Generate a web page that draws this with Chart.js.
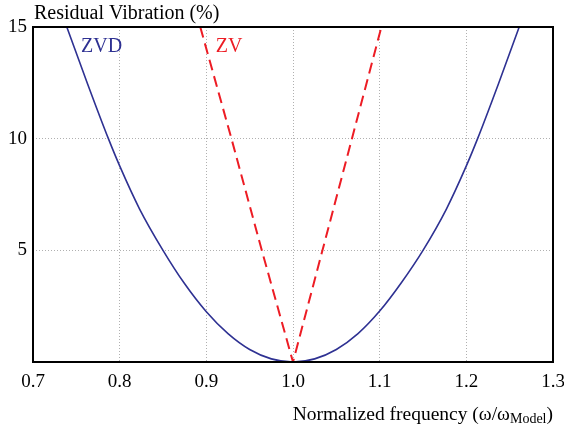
<!DOCTYPE html>
<html>
<head>
<meta charset="utf-8">
<script src="https://cdn.jsdelivr.net/npm/chart.js@4"></script>
<style>
  html, body { margin: 0; padding: 0; background: #fff; }
  #wrap { width: 564px; height: 430px; position: relative; }
</style>
</head>
<body>
<div id="wrap"><canvas id="vib"></canvas></div>
<script>
/* ── data ────────────────────────────────────────────────── */
const zvdX = [0.739, 0.763, 0.787, 0.800, 0.823, 0.850, 0.875, 0.900, 0.925, 0.950, 0.975, 1.000,
              1.025, 1.050, 1.075, 1.100, 1.125, 1.150, 1.177, 1.200, 1.213, 1.237, 1.261];
const zvdY = [15.0, 12.45, 10.0, 8.78, 6.85, 5.0, 3.5, 2.25, 1.27, 0.56, 0.14, 0.0,
              0.14, 0.56, 1.27, 2.28, 3.55, 5.0, 6.85, 8.78, 10.0, 12.45, 15.0];

const zvX = [0.893, 0.929, 0.964, 1.000, 1.034, 1.068, 1.102];
const zvY = [15.0, 10.0, 5.0, 0.0, 5.0, 10.0, 15.0];

const xMin = 0.7, xMax = 1.3, xStep = 0.1;
const yMin = 0, yMax = 15, yStep = 5;

const BLUE = "#2e3192";
const RED = "#ed1c24";
const SERIF = "'Liberation Serif', 'Times New Roman', serif";

const pts = (xs, ys) => xs.map((x, i) => ({ x, y: ys[i] }));

/* ── titles, series labels and frame ─────────────────────── */
const decor = {
  id: "decor",
  afterDraw(chart) {
    const { ctx, chartArea: a, scales } = chart;
    ctx.save();
    // frame
    ctx.strokeStyle = "#000";
    ctx.lineWidth = 2;
    ctx.strokeRect(a.left, a.top, a.right - a.left, a.bottom - a.top);

    ctx.textBaseline = "alphabetic";
    ctx.textAlign = "left";
    ctx.fillStyle = "#000";

    // y title
    ctx.font = "20px " + SERIF;
    ctx.fillText("Residual Vibration (%)", a.left + 1, 18.5);

    // x title with subscript
    const main = "Normalized frequency (ω/ω";
    const sub = "Model";
    const big = "19.5px " + SERIF, small = "14px " + SERIF;
    ctx.font = big;  const w1 = ctx.measureText(main).width;
    ctx.font = small; const w2 = ctx.measureText(sub).width;
    ctx.font = big;  const w3 = ctx.measureText(")").width;
    let x0 = a.right - (w1 + w2 + w3);
    ctx.font = big;   ctx.fillText(main, x0, 419.5);
    ctx.font = small; ctx.fillText(sub, x0 + w1, 422.5);
    ctx.font = big;   ctx.fillText(")", x0 + w1 + w2, 419.5);

    // series labels
    ctx.font = "20px " + SERIF;
    ctx.fillStyle = BLUE;
    ctx.fillText("ZVD", scales.x.getPixelForValue(0.7555), scales.y.getPixelForValue(13.88));
    ctx.fillStyle = RED;
    ctx.fillText("ZV", scales.x.getPixelForValue(0.911), scales.y.getPixelForValue(13.88));
    ctx.restore();
  }
};

new Chart(document.getElementById("vib"), {
  type: "scatter",
  data: {
    datasets: [
      {
        label: "ZVD",
        data: pts(zvdX, zvdY),
        showLine: true,
        borderColor: BLUE,
        borderWidth: 1.6,
        pointRadius: 0,
        cubicInterpolationMode: "monotone",
        fill: false,
      },
      {
        label: "ZV",
        data: pts(zvX, zvY),
        showLine: true,
        borderColor: RED,
        borderWidth: 2,
        borderDash: [11, 6],
        pointRadius: 0,
        tension: 0,
        fill: false,
      },
    ],
  },
  options: {
    responsive: true,
    maintainAspectRatio: false,
    animation: false,
    devicePixelRatio: 1,
    layout: { padding: { top: 27, right: 11, left: 0, bottom: 0 } },
    plugins: {
      legend: { display: false },
      tooltip: { enabled: false },
    },
    scales: {
      x: {
        type: "linear",
        min: xMin,
        max: xMax,
        afterFit: (s) => { s.height = 68; s.paddingRight = 0; s.paddingLeft = 0; },
        afterBuildTicks: (s) => {
          s.ticks = [];
          for (let v = xMin; v <= xMax + 1e-9; v += xStep) s.ticks.push({ value: +v.toFixed(2) });
        },
        grid: { color: "#b0b0b0", lineWidth: 1, drawTicks: false },
        border: { display: false, dash: [1, 2] },
        ticks: {
          padding: 9,
          color: "#000",
          font: { family: SERIF, size: 19 },
          callback: (v) => Number(v).toFixed(1),
          maxRotation: 0,
        },
      },
      y: {
        min: yMin,
        max: yMax,
        afterFit: (s) => { s.width = 33; s.paddingTop = 0; s.paddingBottom = 0; },
        grid: { color: "#b0b0b0", lineWidth: 1, drawTicks: false },
        border: { display: false, dash: [1, 2] },
        ticks: {
          stepSize: yStep,
          padding: 6,
          color: "#000",
          font: { family: SERIF, size: 19 },
          callback: (v) => (v === 0 ? "" : v),
        },
      },
    },
  },
  plugins: [decor],
});
</script>
</body>
</html>
